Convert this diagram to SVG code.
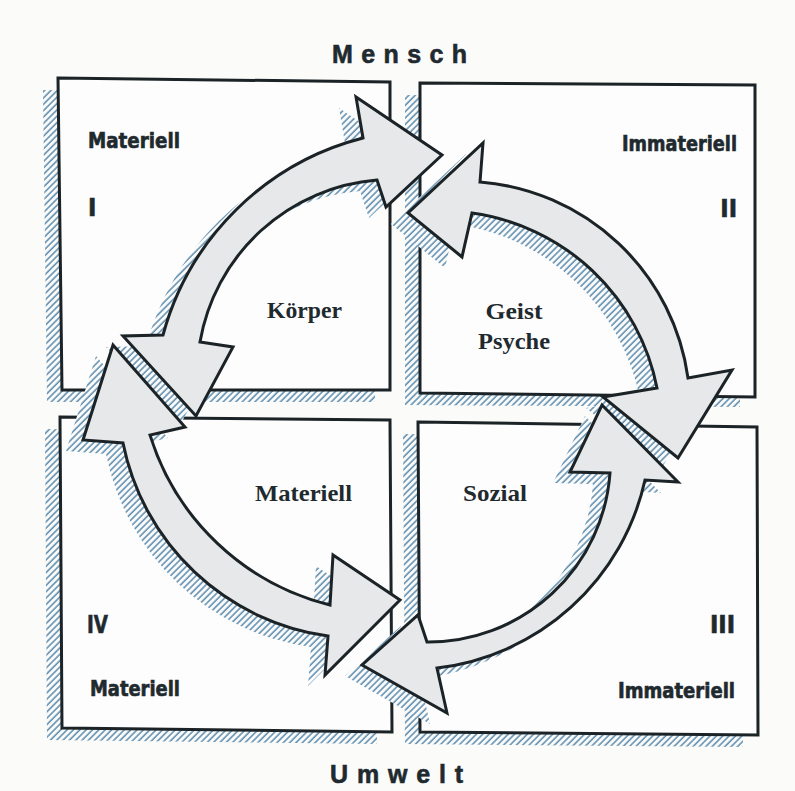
<svg xmlns="http://www.w3.org/2000/svg" width="795" height="791" viewBox="0 0 795 791">
<style>
.box{fill:#fdfdfd;stroke:#1b2327;stroke-width:3;stroke-linejoin:miter}
.shd{fill:url(#hatch);stroke:none}
.ashd{fill:url(#hatchO);stroke:none}
.arrow{fill:#e6e8ea;stroke:#1b2327;stroke-width:3;stroke-linejoin:miter;stroke-miterlimit:10}
.lab{font-family:"Liberation Sans Narrow","DejaVu Sans Condensed","Liberation Sans",sans-serif;font-weight:bold;font-size:21px;fill:#1f2a2f;stroke:#1f2a2f;stroke-width:0.6}
.num{font-family:"Liberation Sans Narrow","DejaVu Sans Condensed","Liberation Sans",sans-serif;font-weight:bold;font-size:25px;fill:#1f2a2f;stroke:#1f2a2f;stroke-width:0.6}
.ser{font-family:"Liberation Serif","Times New Roman",serif;font-weight:bold;font-size:24px;fill:#1f2a2f}
.head{font-family:"Liberation Sans","DejaVu Sans",sans-serif;font-weight:bold;font-size:25px;fill:#1f2a2f;stroke:#1f2a2f;stroke-width:0.6}
</style>
<defs>
<pattern id="hatch" width="4.5" height="4.5" patternUnits="userSpaceOnUse" patternTransform="rotate(45)">
<line x1="1" y1="0" x2="1" y2="4.5" stroke="#6592b2" stroke-width="1.6"/>
</pattern>
<pattern id="hatchO" width="4.5" height="4.5" patternUnits="userSpaceOnUse" patternTransform="rotate(45)">
<rect width="4.5" height="4.5" fill="#fbfbfb"/>
<line x1="1" y1="0" x2="1" y2="4.5" stroke="#6592b2" stroke-width="1.6"/>
</pattern>
</defs>
<rect width="795" height="791" fill="#fbfbfa"/>

<g id="box-I">
<polygon class="shd" points="43,90 375,94 375,402 47,402"/>
<polygon class="box" points="58,78 390,82 390,390 62,390"/>
<text class="lab" x="88" y="148" textLength="92" lengthAdjust="spacingAndGlyphs">Materiell</text>
<text class="num" x="88" y="216">I</text>
<text class="ser" x="267" y="318" textLength="75" lengthAdjust="spacingAndGlyphs">Körper</text>
</g>

<g id="box-II">
<polygon class="shd" points="405,95 740,97 740,407 405,405"/>
<polygon class="box" points="420,83 755,85 755,397 420,393"/>
<text class="lab" x="737" y="151" text-anchor="end" textLength="115" lengthAdjust="spacingAndGlyphs">Immateriell</text>
<text class="num" x="737" y="217" text-anchor="end">II</text>
<text class="ser" x="514" y="319" text-anchor="middle" textLength="57" lengthAdjust="spacingAndGlyphs">Geist</text>
<text class="ser" x="514" y="349" text-anchor="middle" textLength="72" lengthAdjust="spacingAndGlyphs">Psyche</text>
</g>

<g id="box-IV">
<polygon class="shd" points="45,429 375,432 377,744 47,740"/>
<polygon class="box" points="60,417 390,420 392,732 62,728"/>
<text class="num" x="87" y="633" textLength="21" lengthAdjust="spacingAndGlyphs">IV</text>
<text class="lab" x="90" y="696" textLength="90" lengthAdjust="spacingAndGlyphs">Materiell</text>
<text class="ser" x="255" y="501" textLength="97" lengthAdjust="spacingAndGlyphs">Materiell</text>
</g>

<g id="box-III">
<polygon class="shd" points="403,434 742,439 743,747 405,744"/>
<polygon class="box" points="418,422 757,427 758,735 420,732"/>
<text class="num" x="735" y="633" text-anchor="end">III</text>
<text class="lab" x="735" y="698" text-anchor="end" textLength="117" lengthAdjust="spacingAndGlyphs">Immateriell</text>
<text class="ser" x="463" y="501" textLength="64" lengthAdjust="spacingAndGlyphs">Sozial</text>
</g>

<g id="connectors">
<g transform="translate(-17,11)">
<path class="ashd" d="M377,180 L386,207 L442,155 L356,97 L363,138 A279,279 0 0 0 163,335 L123,336 L196,416 L233,347 L200,342 A196,196 0 0 1 377,180 Z"/>
<path class="ashd" d="M480,182 L483,143 L408,213 L462,257 L472,213 A219,219 0 0 1 657,388 L603,397 L678,458 L732,370 L688,378 A228,228 0 0 0 480,182 Z"/>
<path class="ashd" d="M602,405 L678,482 L645,480 A242,242 0 0 1 437,668 L447,713 L362,665 L418,615 L427,642 A182,182 0 0 0 610,473 L570,472 Z"/>
<path class="ashd" d="M113,345 L185,427 L150,435 A252,252 0 0 0 330,605 L333,555 L400,600 L325,675 L328,636 A243,243 0 0 1 123,443 L83,440 Z"/>
</g>
<path id="arrow-I" class="arrow" d="M377,180 L386,207 L442,155 L356,97 L363,138 A279,279 0 0 0 163,335 L123,336 L196,416 L233,347 L200,342 A196,196 0 0 1 377,180 Z"/>
<path id="arrow-II" class="arrow" d="M480,182 L483,143 L408,213 L462,257 L472,213 A219,219 0 0 1 657,388 L603,397 L678,458 L732,370 L688,378 A228,228 0 0 0 480,182 Z"/>
<path id="arrow-III" class="arrow" d="M602,405 L678,482 L645,480 A242,242 0 0 1 437,668 L447,713 L362,665 L418,615 L427,642 A182,182 0 0 0 610,473 L570,472 Z"/>
<path id="arrow-IV" class="arrow" d="M113,345 L185,427 L150,435 A252,252 0 0 0 330,605 L333,555 L400,600 L325,675 L328,636 A243,243 0 0 1 123,443 L83,440 Z"/>
</g>

<g id="titles">
<text class="head" x="332" y="63" textLength="135" lengthAdjust="spacing">Mensch</text>
<text class="head" x="330" y="783" textLength="133" lengthAdjust="spacing">Umwelt</text>
</g>
</svg>
